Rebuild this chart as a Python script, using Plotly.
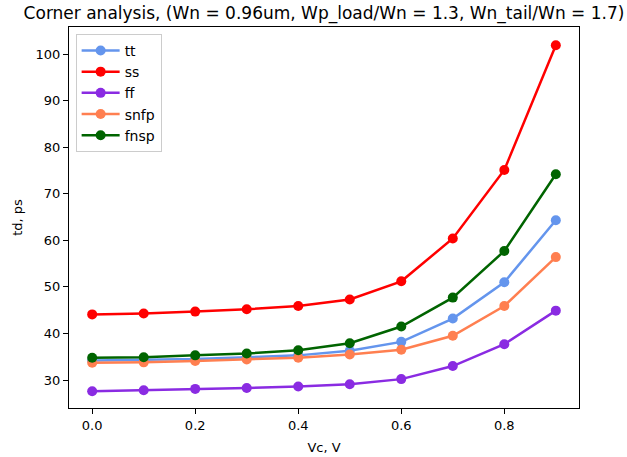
import plotly.graph_objects as go

vc = [0.0, 0.1, 0.2, 0.3, 0.4, 0.5, 0.6, 0.7, 0.8, 0.9]
tt = [34.2, 34.3, 34.5, 34.9, 35.3, 36.3, 38.2, 43.2, 51.0, 64.3]
ss = [44.1, 44.3, 44.7, 45.2, 45.9, 47.3, 51.2, 60.4, 75.1, 101.9]
ff = [27.6, 27.8, 28.1, 28.3, 28.6, 29.1, 30.2, 33.0, 37.7, 44.9]
snfp = [33.7, 33.8, 34.1, 34.4, 34.8, 35.5, 36.5, 39.5, 45.9, 56.4]
fnsp = [34.8, 34.9, 35.3, 35.7, 36.4, 37.9, 41.5, 47.7, 57.7, 74.2]

series = [("tt", tt, "#6495ED"), ("ss", ss, "#FF0000"), ("ff", ff, "#8A2BE2"),
          ("snfp", snfp, "#FF7F50"), ("fnsp", fnsp, "#006400")]

fig = go.Figure()
for name, vals, col in series:
    fig.add_trace(go.Scatter(x=vc, y=vals, name=name, mode="lines+markers",
                             line=dict(color=col, width=2.5),
                             marker=dict(color=col, size=10)))

font = "DejaVu Sans, sans-serif"
fig.update_layout(
    width=627, height=457,
    margin=dict(l=69, r=48, t=27, b=49, autoexpand=False),
    paper_bgcolor="white", plot_bgcolor="white",
    font=dict(family=font, size=13, color="black"),
    title=dict(text="Corner analysis, (Wn = 0.96um, Wp_load/Wn = 1.3, Wn_tail/Wn = 1.7)",
               x=0.5, xanchor="center", xref="paper", y=0.971, yanchor="middle",
               font=dict(family=font, size=17, color="black")),
    showlegend=True,
    legend=dict(x=0.013, y=0.982, xanchor="left", yanchor="top",
                bgcolor="rgba(255,255,255,0.8)", bordercolor="#cccccc", borderwidth=1,
                font=dict(family=font, size=14, color="black"),
                tracegroupgap=0, itemwidth=38),
)
fig.update_xaxes(range=[-0.045, 0.945], tickvals=[0.0, 0.2, 0.4, 0.6, 0.8],
                 ticktext=["0.0", "0.2", "0.4", "0.6", "0.8"], automargin=False,
                 showline=True, linecolor="black", linewidth=1, mirror=True,
                 ticks="outside", ticklen=5, tickcolor="black", showgrid=False, zeroline=False,
                 tickfont=dict(family=font, size=13),
                 title=dict(text="Vc, V", font=dict(family=font, size=13), standoff=11))
fig.update_yaxes(range=[24.0, 105.8], tickvals=[30, 40, 50, 60, 70, 80, 90, 100],
                 automargin=False,
                 showline=True, linecolor="black", linewidth=1, mirror=True,
                 ticks="outside", ticklen=5, tickcolor="black", showgrid=False, zeroline=False,
                 tickfont=dict(family=font, size=13),
                 title=dict(text="td, ps", font=dict(family=font, size=13), standoff=10))
fig.write_html("out.html")
